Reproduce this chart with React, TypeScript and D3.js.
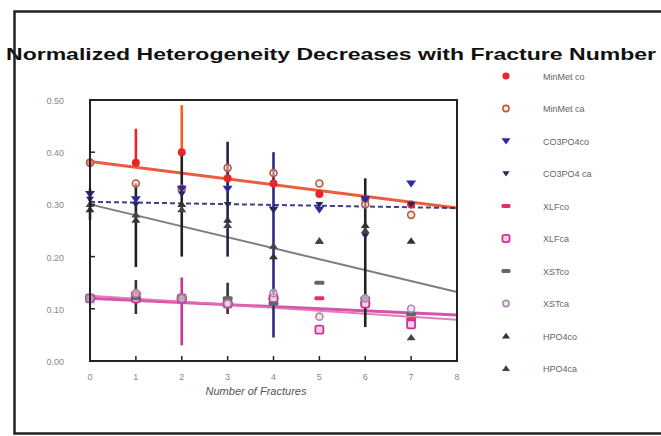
import React from "react";
import * as d3 from "d3";

const fractures = [0, 1, 2, 3, 4, 5, 6, 7];
const xTicks = [0, 1, 2, 3, 4, 5, 6, 7, 8];
const yTicks = [0, 0.1, 0.2, 0.3, 0.4, 0.5];

const seriesNames = ["MinMet co", "MinMet ca", "CO3PO4co", "CO3PO4 ca", "XLFco", "XLFca", "XSTco", "XSTca", "HPO4co", "HPO4ca"];
const seriesColors = ["#e8262a", "#b85a40", "#2b2b9c", "#27275e", "#e0306a", "#cc3399", "#666666", "#a888b8", "#333333", "#444444"];
const seriesShapes = ["circle", "ocircle", "tridown", "tridownS", "dash", "square", "dash", "ocircle", "triup", "triup"];

const minMetCo = [0.38, 0.38, 0.4, 0.35, 0.34, 0.32, 0.31, 0.3];
const minMetCa = [0.38, 0.34, 0.33, 0.37, 0.36, 0.34, 0.3, 0.28];
const co3po4Co = [0.32, 0.31, 0.33, 0.33, 0.29, 0.29, 0.31, 0.34];
const co3po4Ca = [0.31, 0.3, 0.32, 0.3, 0.29, 0.3, 0.24, 0.3];
const xlfCo = [0.12, 0.13, 0.12, 0.11, 0.12, 0.12, 0.11, 0.08];
const xlfCa = [0.12, 0.12, 0.12, 0.11, 0.12, 0.06, 0.11, 0.07];
const xstCo = [0.12, 0.12, 0.12, 0.12, 0.11, 0.15, 0.12, 0.09];
const xstCa = [0.12, 0.13, 0.12, 0.11, 0.13, 0.085, 0.12, 0.1];
const hpo4Co = [0.29, 0.27, 0.3, 0.27, 0.2, 0.23, 0.26, 0.23];
const hpo4Ca = [0.3, 0.28, 0.29, 0.26, 0.22, 0.23, 0.25, 0.045];
const seriesValues = [minMetCo, minMetCa, co3po4Co, co3po4Ca, xlfCo, xlfCa, xstCo, xstCa, hpo4Co, hpo4Ca];

// error bars: fracture number, low, high, colour
const errX = [0, 1, 1, 1, 2, 2, 2, 3, 3, 4, 6];
const errLow = [0.27, 0.38, 0.18, 0.09, 0.4, 0.2, 0.03, 0.2, 0.09, 0.045, 0.065];
const errHigh = [0.33, 0.445, 0.34, 0.155, 0.49, 0.4, 0.16, 0.42, 0.15, 0.4, 0.35];
const errColors = ["#27275e", "#e8262a", "#222222", "#333333", "#f06020", "#222222", "#cc3399", "#222244", "#333333", "#2b2b7c", "#222222"];

// fitted trend lines: value at 0 fractures and at 8 fractures
const trendStart = [0.382, 0.305, 0.3, 0.12, 0.125];
const trendEnd = [0.293, 0.293, 0.132, 0.088, 0.079];
const trendColors = ["#ea4a2a", "#2a2a80", "#707070", "#d040a0", "#e070b0"];
const trendWidths = [3, 2, 2, 3, 2];
const trendDash = ["", "5,3", "", "", ""];

const W = 661;
const H = 436;
const plot = { left: 90, right: 457, top: 100, bottom: 361 };

function Marker({ shape, color, x, y, s = 1 }: { shape: string; color: string; x: number; y: number; s?: number }) {
  if (shape === "circle") return <circle cx={x} cy={y} r={4 * s} fill={color} />;
  if (shape === "ocircle") return <circle cx={x} cy={y} r={3.5 * s} fill="#f4d8d0" fillOpacity={0.6} stroke={color} strokeWidth={1.6} />;
  if (shape === "tridown") {
    const r = 5 * s;
    return <path d={`M${x - r},${y - r * 0.6}L${x + r},${y - r * 0.6}L${x},${y + r * 0.8}Z`} fill={color} />;
  }
  if (shape === "tridownS") {
    const r = 4 * s;
    return <path d={`M${x - r},${y - r * 0.6}L${x + r},${y - r * 0.6}L${x},${y + r * 0.8}Z`} fill={color} />;
  }
  if (shape === "triup") {
    const r = 4.5 * s;
    return <path d={`M${x - r},${y + r * 0.6}L${x + r},${y + r * 0.6}L${x},${y - r * 0.8}Z`} fill={color} />;
  }
  if (shape === "dash") return <rect x={x - 5 * s} y={y - 2} width={10 * s} height={4} rx={1.5} fill={color} />;
  if (shape === "square")
    return <rect x={x - 4 * s} y={y - 4 * s} width={8 * s} height={8 * s} rx={2} fill="#f3d0e6" stroke={color} strokeWidth={1.8} />;
  return null;
}

export default function App() {
  const x = d3.scaleLinear().domain([0, 8]).range([plot.left, plot.right]);
  const y = d3.scaleLinear().domain([0, 0.5]).range([plot.bottom, plot.top]);
  const legendY = d3.scaleLinear().domain([0, 9]).range([76, 368.5]);

  return (
    <svg width={W} height={H} style={{ position: "absolute", left: 0, top: 0, background: "#fff" }} fontFamily="Arial, Liberation Sans, sans-serif">
      <rect x={0} y={0} width={W} height={H} fill="#fff" />
      {/* title */}
      <text x={6} y={60} fontSize={17} fontWeight="bold" fill="#111" textLength={650} lengthAdjust="spacingAndGlyphs">
        Normalized Heterogeneity  Decreases  with Fracture Number
      </text>
      {/* outer frame */}
      <path d={`M${W},11.5H14.5V433.5H${W}`} fill="none" stroke="#222" strokeWidth={2.5} />

      {/* trend lines */}
      {trendStart.map((v, i) => (
        <line key={"t" + i} x1={x(0)} y1={y(v)} x2={x(8)} y2={y(trendEnd[i])} stroke={trendColors[i]} strokeWidth={trendWidths[i]} strokeDasharray={trendDash[i]} strokeOpacity={0.9} />
      ))}

      {/* error bars */}
      {errX.map((f, i) => (
        <g key={"e" + i} stroke={errColors[i]} strokeWidth={2.6}>
          <line x1={x(f)} x2={x(f)} y1={y(errLow[i])} y2={y(errHigh[i])} />
        </g>
      ))}

      {/* points */}
      {seriesValues.map((vals, si) => (
        <g key={"s" + si}>
          {vals.map((v, k) => (
            <Marker key={k} shape={seriesShapes[si]} color={seriesColors[si]} x={x(fractures[k])} y={y(v)} />
          ))}
        </g>
      ))}

      {/* plot frame */}
      <rect x={plot.left} y={plot.top} width={plot.right - plot.left} height={plot.bottom - plot.top} fill="none" stroke="#222" strokeWidth={2} />
      {xTicks.map((t) => (
        <g key={"xt" + t}>
          <line x1={x(t)} x2={x(t)} y1={plot.bottom} y2={plot.bottom - 5} stroke="#222" strokeWidth={1.5} />
          <text x={x(t)} y={380} fontSize={9} fill="#888" textAnchor="middle">{t}</text>
        </g>
      ))}
      {yTicks.map((t) => (
        <g key={"yt" + t}>
          <line x1={plot.left} x2={plot.left + 5} y1={y(t)} y2={y(t)} stroke="#222" strokeWidth={1.5} />
          <text x={64} y={y(t) + 4} fontSize={9} fill="#888" textAnchor="end">{t.toFixed(2)}</text>
        </g>
      ))}
      <text x={256} y={395} fontSize={11} fontStyle="italic" fill="#555" textAnchor="middle">Number of Fractures</text>

      {/* legend */}
      {seriesNames.map((n, i) => (
        <g key={"l" + i}>
          <Marker shape={seriesShapes[i]} color={seriesColors[i]} x={506} y={legendY(i)} s={0.9} />
          <text x={543} y={legendY(i) + 3.5} fontSize={9} fill="#666">{n}</text>
        </g>
      ))}
    </svg>
  );
}
